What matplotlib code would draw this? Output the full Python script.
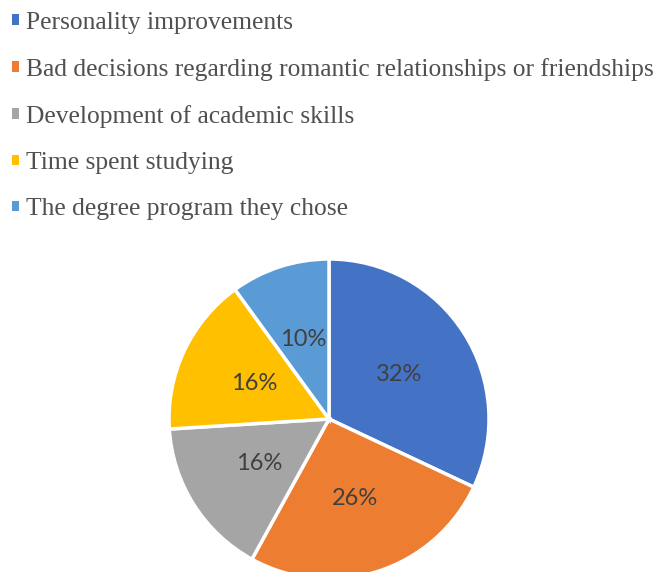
import matplotlib
matplotlib.use("Agg")
import matplotlib.pyplot as plt
from matplotlib.patches import Patch

categories = ["Personality improvements",
              "Bad decisions regarding romantic relationships or friendships",
              "Development of academic skills",
              "Time spent studying",
              "The degree program they chose"]
values = [32, 26, 16, 16, 10]
colors = ["#4472C4", "#ED7D31", "#A5A5A5", "#FFC000", "#5B9BD5"]

W, H = 661, 572
fig = plt.figure(figsize=(W / 100, H / 100), dpi=100)

cx, cy, r = 329, 419, 160
ax = fig.add_axes([(cx - r) / W, (H - cy - r) / H, 2 * r / W, 2 * r / H])
wedges, texts, autotexts = ax.pie(
    values, colors=colors, startangle=90, counterclock=False,
    autopct=lambda p: f"{p:.0f}%", pctdistance=0.52, radius=1,
    wedgeprops=dict(edgecolor="white", linewidth=2.5),
    textprops=dict(color="#404040", fontsize=17, family="Lato"))
ax.set_xlim(-1, 1)
ax.set_ylim(-1, 1)
ax.set_aspect("equal")
ax.axis("off")

handles = [Patch(facecolor=c, edgecolor="none") for c in colors]
leg = fig.legend(handles, categories, loc="upper left",
                 bbox_to_anchor=(12 / W, 1 - 12 / H), frameon=False,
                 prop=dict(family="Liberation Serif", size=18.4),
                 handlelength=0.26, handleheight=0.26, handletextpad=0.3,
                 labelspacing=0.94, borderpad=0, borderaxespad=0)
for t in leg.get_texts():
    t.set_color("#505050")

fig.savefig("out.png", dpi=100)
